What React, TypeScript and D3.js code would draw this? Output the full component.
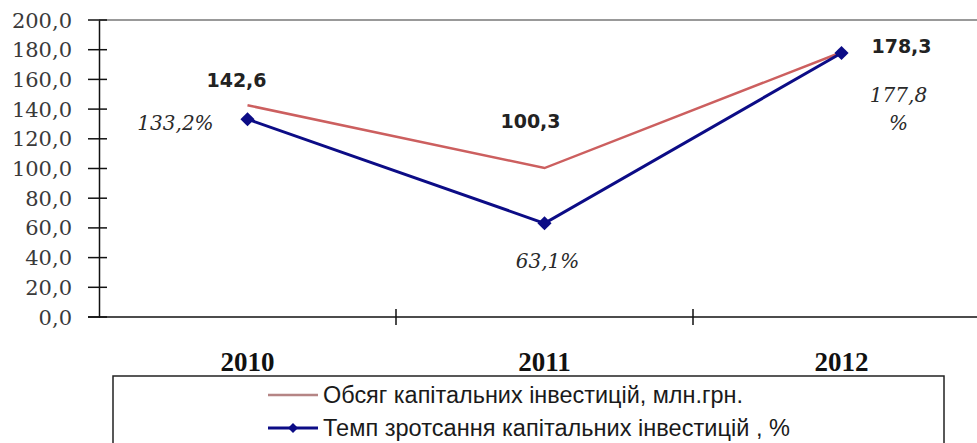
import { useEffect, useRef } from "react";
import * as d3 from "d3";

const years = ["2010", "2011", "2012"];
const volume = [142.6, 100.3, 178.3]; // млн.грн.
const growth = [133.2, 63.1, 177.8]; // %
const volumeLabels = ["142,6", "100,3", "178,3"];
const growthLabels = ["133,2%", "63,1%", "177,8"];
const yTicks = [0, 20, 40, 60, 80, 100, 120, 140, 160, 180, 200];
const legendNames = [
  "Обсяг капітальних  інвестицій, млн.грн.",
  "Темп зротсання капітальних інвестицій , %",
];

const W = 977;
const H = 443;
const RED = "#cc5f5f";
const BLUE = "#0c0c86";

export default function App() {
  const ref = useRef<SVGSVGElement>(null);

  useEffect(() => {
    const svg = d3.select(ref.current);
    svg.selectAll("*").remove();

    const x = d3.scaleBand().domain(years).range([99, 990]).padding(0);
    const y = d3.scaleLinear().domain([0, 200]).range([317, 20]);
    const cx = (d: string) => (x(d) as number) + x.bandwidth() / 2;

    // top border
    svg.append("line")
      .attr("x1", 99).attr("x2", W).attr("y1", y(200)).attr("y2", y(200))
      .attr("stroke", "#777").attr("stroke-width", 1.5);

    // y axis
    const yAxis = svg.append("g").attr("transform", "translate(99,0)")
      .call(d3.axisLeft(y).tickValues(yTicks).tickSize(0).tickFormat(() => ""));
    yAxis.select(".domain").attr("stroke", "#111").attr("stroke-width", 1.5);
    yAxis.selectAll(".tick line").remove();
    yTicks.forEach((t) => {
      svg.append("line")
        .attr("x1", 88).attr("x2", 107).attr("y1", y(t)).attr("y2", y(t))
        .attr("stroke", "#111").attr("stroke-width", 1.5);
      svg.append("text")
        .attr("x", 72).attr("y", y(t)).attr("dy", "0.36em")
        .attr("text-anchor", "end")
        .attr("font-family", "DejaVu Serif").attr("font-size", 21)
        .attr("fill", "#3a3a3a")
        .text(d3.format(".1f")(t).replace(".", ","));
    });

    // x axis
    svg.append("line")
      .attr("x1", 88).attr("x2", W).attr("y1", y(0)).attr("y2", y(0))
      .attr("stroke", "#111").attr("stroke-width", 1.5);
    years.slice(1).forEach((yr) => {
      svg.append("line")
        .attr("x1", x(yr) as number).attr("x2", x(yr) as number)
        .attr("y1", y(0) - 8).attr("y2", y(0) + 8)
        .attr("stroke", "#111").attr("stroke-width", 1.5);
    });
    years.forEach((yr) => {
      svg.append("text")
        .attr("x", cx(yr)).attr("y", 371)
        .attr("text-anchor", "middle")
        .attr("font-family", "Liberation Serif").attr("font-weight", "bold")
        .attr("font-size", 27).attr("fill", "#111")
        .text(yr);
    });

    const line = d3.line<number>()
      .x((_, i) => cx(years[i]))
      .y((d) => y(d));

    svg.append("path").datum(volume)
      .attr("d", line).attr("fill", "none")
      .attr("stroke", RED).attr("stroke-width", 2.5);

    svg.append("path").datum(growth)
      .attr("d", line).attr("fill", "none")
      .attr("stroke", BLUE).attr("stroke-width", 3);

    const diamond = d3.symbol().type(d3.symbolSquare).size(100);
    svg.selectAll(".mk").data(growth).enter().append("path")
      .attr("transform", (d, i) => `translate(${cx(years[i])},${y(d)}) rotate(45)`)
      .attr("d", diamond).attr("fill", BLUE);

    // value labels
    const boldOff = [[-11, -18], [-14, -40], [60, 1]];
    volume.forEach((v, i) => {
      svg.append("text")
        .attr("x", cx(years[i]) + boldOff[i][0]).attr("y", y(v) + boldOff[i][1])
        .attr("text-anchor", "middle")
        .attr("font-family", "DejaVu Sans").attr("font-weight", "bold")
        .attr("font-size", 19).attr("fill", "#222")
        .text(volumeLabels[i]);
    });
    const itOff = [[-72, 11], [3, 45], [57, 49]];
    growth.forEach((v, i) => {
      svg.append("text")
        .attr("x", cx(years[i]) + itOff[i][0]).attr("y", y(v) + itOff[i][1])
        .attr("text-anchor", "middle")
        .attr("font-family", "DejaVu Serif").attr("font-style", "italic")
        .attr("font-size", 20).attr("fill", "#2a2a2a")
        .text(growthLabels[i]);
      if (i === 2) {
        svg.append("text")
          .attr("x", cx(years[i]) + itOff[i][0]).attr("y", y(v) + itOff[i][1] + 28)
          .attr("text-anchor", "middle")
          .attr("font-family", "DejaVu Serif").attr("font-style", "italic")
          .attr("font-size", 20).attr("fill", "#2a2a2a")
          .text("%");
      }
    });

    // legend
    svg.append("rect")
      .attr("x", 113).attr("y", 376).attr("width", 831).attr("height", 100)
      .attr("fill", "none").attr("stroke", "#222").attr("stroke-width", 1.5);
    const lg = svg.append("g");
    legendNames.forEach((name, i) => {
      const ly = 395 + i * 33;
      lg.append("line")
        .attr("x1", 268).attr("x2", 318).attr("y1", ly).attr("y2", ly)
        .attr("stroke", i === 0 ? "#b58585" : BLUE).attr("stroke-width", i === 0 ? 2.5 : 3);
      if (i === 1) {
        lg.append("path").attr("transform", `translate(293,${ly}) rotate(45)`)
          .attr("d", d3.symbol().type(d3.symbolSquare).size(50)).attr("fill", BLUE);
      }
      lg.append("text")
        .attr("x", 323).attr("y", ly).attr("dy", "0.36em")
        .attr("font-family", "Liberation Sans").attr("font-size", 23)
        .attr("fill", "#1a1a1a")
        .attr("textLength", i === 0 ? 420 : 467).attr("lengthAdjust", "spacingAndGlyphs")
        .text(name);
    });
  }, []);

  return (
    <svg
      ref={ref}
      width={W}
      height={H}
      style={{ position: "absolute", left: 0, top: 0, background: "#fff" }}
    />
  );
}
